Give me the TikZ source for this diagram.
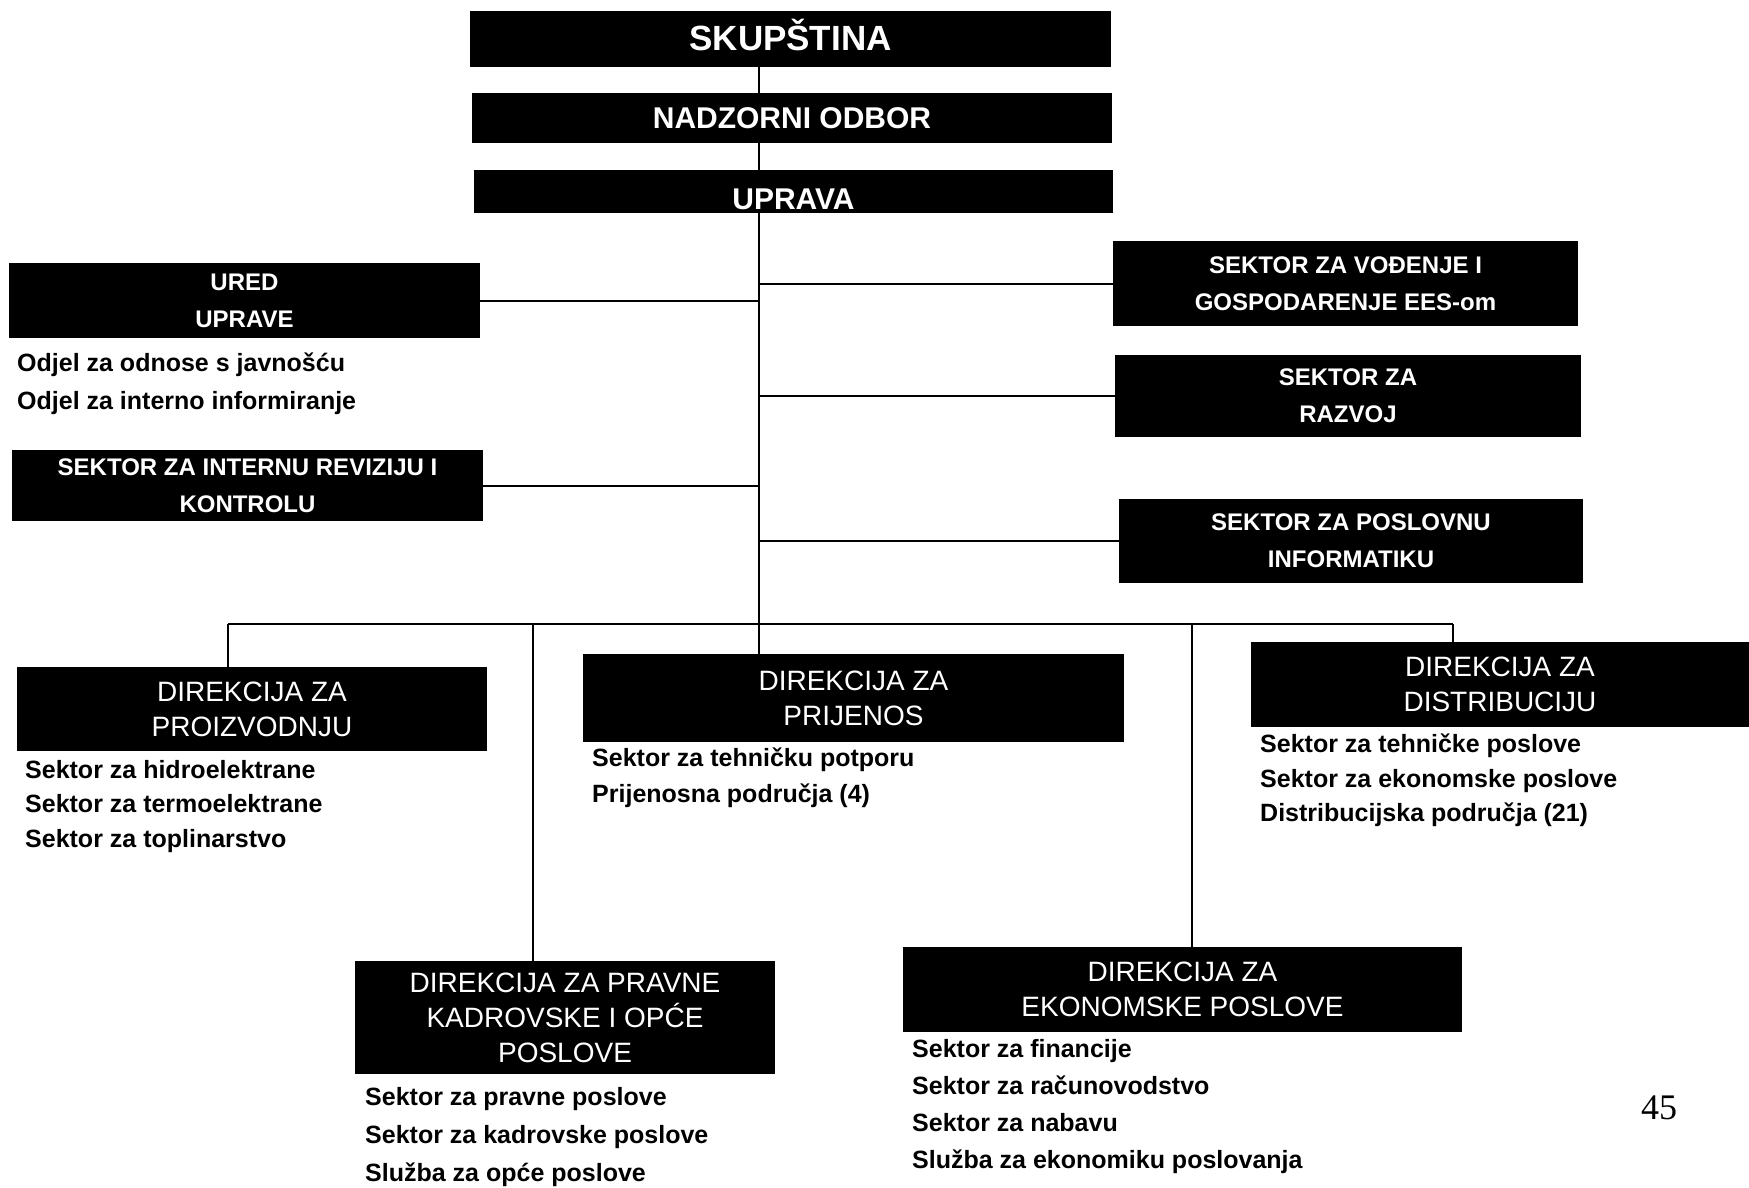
\documentclass[tikz,border=0pt]{standalone}
\usepackage{fontspec}
\setmainfont{Liberation Sans}
\newfontfamily\pagefont{Liberation Serif}
\usetikzlibrary{positioning}

\begin{document}
\begin{tikzpicture}[x=1pt,y=-1pt]
        \tikzstyle{blackbox} = [fill=black, text=white, align=center, inner sep=0pt]
        \tikzstyle{topbox} = [blackbox, font=\bfseries\fontsize{30}{36}\selectfont]
        \tikzstyle{sektor} = [blackbox, font=\bfseries\fontsize{24}{37}\selectfont]
        \tikzstyle{direkcija} = [blackbox, font=\fontsize{28}{35}\selectfont]
        \tikzstyle{list} = [align=left, anchor=north west, inner sep=0pt, font=\bfseries\fontsize{25}{36}\selectfont]
        \tikzstyle{link} = [line width=2pt]

        \useasboundingbox (0,0) rectangle (1749,1187);

        % top of the chart
        \node[topbox, minimum width=641, minimum height=56, text height=31pt, text depth=9pt, font=\bfseries\fontsize{35}{40}\selectfont](skup) at (790.5,39) {SKUP\v{S}TINA};
        \node[topbox, minimum width=640, minimum height=50](nad) at (792,118) {NADZORNI ODBOR};
        \node[topbox, minimum width=639, minimum height=43, text height=35pt, text depth=0pt](upr) at (793.5,191.5) {UPRAVA};

        % sectors beside the spine
        \node[sektor, minimum width=471, minimum height=75](ured) at (244.5,300.5) {URED\\UPRAVE};
        \node[sektor, minimum width=471, minimum height=71](rev) at (247.5,485.5) {SEKTOR ZA INTERNU REVIZIJU I\\KONTROLU};
        \node[sektor, minimum width=465, minimum height=85](vod) at (1345.5,283.5) {SEKTOR ZA VO\DJ ENJE I\\GOSPODARENJE EES-om};
        \node[sektor, minimum width=466, minimum height=82](raz) at (1348,396) {SEKTOR ZA\\RAZVOJ};
        \node[sektor, minimum width=464, minimum height=84](inf) at (1351,541) {SEKTOR ZA POSLOVNU\\INFORMATIKU};

        % directorates
        \node[direkcija, minimum width=470, minimum height=84](proi) at (252,709) {DIREKCIJA ZA\\PROIZVODNJU};
        \node[direkcija, minimum width=541, minimum height=88](prij) at (853.5,698) {DIREKCIJA ZA\\PRIJENOS};
        \node[direkcija, minimum width=498, minimum height=85](dist) at (1500,684.5) {DIREKCIJA ZA\\DISTRIBUCIJU};
        \node[direkcija, minimum width=420, minimum height=113](prav) at (565,1017.5) {DIREKCIJA ZA PRAVNE\\KADROVSKE I OP\'CE\\POSLOVE};
        \node[direkcija, minimum width=559, minimum height=85](ekon) at (1182.5,989.5) {DIREKCIJA ZA\\EKONOMSKE POSLOVE};

        % lists under the boxes
        \node[list, font=\bfseries\fontsize{25}{38}\selectfont](uredL) at (17,353) {Odjel za odnose s javno\v{s}\'cu\\Odjel za interno informiranje};
        \node[list, font=\bfseries\fontsize{25}{34.5}\selectfont](proiL) at (25,760) {Sektor za hidroelektrane\\Sektor za termoelektrane\\Sektor za toplinarstvo};
        \node[list](prijL) at (592,748) {Sektor za tehni\v{c}ku potporu\\Prijenosna podru\v{c}ja (4)};
        \node[list, font=\bfseries\fontsize{25}{34.5}\selectfont](distL) at (1260,734) {Sektor za tehni\v{c}ke poslove\\Sektor za ekonomske poslove\\Distribucijska podru\v{c}ja (21)};
        \node[list, font=\bfseries\fontsize{25}{38}\selectfont](pravL) at (365,1087) {Sektor za pravne poslove\\Sektor za kadrovske poslove\\Slu\v{z}ba za op\'ce poslove};
        \node[list, font=\bfseries\fontsize{25}{37}\selectfont](ekonL) at (912,1039) {Sektor za financije\\Sektor za ra\v{c}unovodstvo\\Sektor za nabavu\\Slu\v{z}ba za ekonomiku poslovanja};

        \node[font=\pagefont\fontsize{36}{40}\selectfont](page) at (1659,1108) {45};

        % spine and bus
        \coordinate (sp) at (759,0);
        \coordinate (busL) at (228,624);
        \coordinate (busR) at (1453,624);
        \coordinate (dPrav) at (533,624);
        \coordinate (dEkon) at (1192,624);

        \draw[link] (skup.south -| sp) -- (nad.north -| sp);
        \draw[link] (nad.south -| sp) -- (upr.north -| sp);
        \draw[link] (upr.south -| sp) -- (busL -| sp);
        \draw[link] (busL) -- (busR);

        \draw[link] (ured.east) -- (ured.east -| sp);
        \draw[link] (rev.east) -- (rev.east -| sp);
        \draw[link] (vod.west) -- (vod.west -| sp);
        \draw[link] (raz.west) -- (raz.west -| sp);
        \draw[link] (inf.west) -- (inf.west -| sp);

        \draw[link] (busL) -- (busL |- proi.north);
        \draw[link] (dPrav) -- (dPrav |- prav.north);
        \draw[link] (busL -| sp) -- (prij.north -| sp);
        \draw[link] (dEkon) -- (dEkon |- ekon.north);
        \draw[link] (busR) -- (busR |- dist.north);

\end{tikzpicture}
\end{document}
